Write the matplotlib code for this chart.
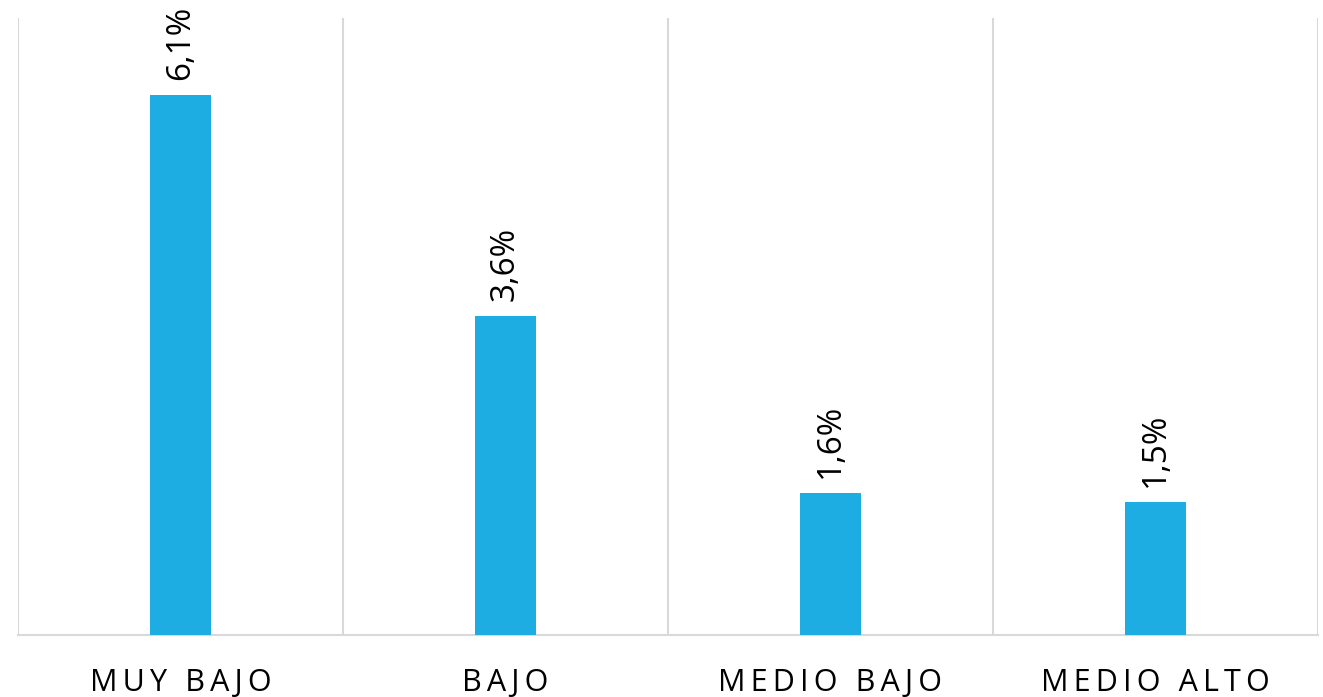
import matplotlib.pyplot as plt
import numpy as np

categories = ["MUY BAJO", "BAJO", "MEDIO BAJO", "MEDIO ALTO"]
values = [6.1, 3.6, 1.6, 1.5]
value_labels = ["6,1%", "3,6%", "1,6%", "1,5%"]

BAR_COLOR = "#1EADE3"
GRID_COLOR = "#D9D9D9"

plt.rcParams["font.family"] = ["Open Sans", "DejaVu Sans"]

fig = plt.figure(figsize=(13.23, 6.97), dpi=100)
ax = fig.add_axes([0.0136, 0.089, 0.9826, 0.885])

x = np.arange(len(categories))
ax.bar(x, values, width=0.185, color=BAR_COLOR, zorder=3)

# Value labels sit above each bar, rotated like the original
for xi, val, label in zip(x, values, value_labels):
    ax.annotate(label, (xi, val), xytext=(0, 11), textcoords="offset points",
                rotation=90, ha="center", va="bottom", fontsize=24, color="black")

# Category separators
for b in np.arange(-0.5, len(categories) + 0.5, 1.0):
    ax.axvline(b, color=GRID_COLOR, linewidth=1.5, zorder=1)

ax.set_xlim(-0.5, len(categories) - 0.5)
ax.set_ylim(0, 6.97)
ax.set_yticks([])
ax.set_xticks(x)
spaced = ["\u2009".join(c) for c in categories]
ax.set_xticklabels(spaced, fontsize=22)
ax.tick_params(axis="x", length=0, pad=24)

for side in ["top", "right", "left"]:
    ax.spines[side].set_visible(False)
ax.spines["bottom"].set_color(GRID_COLOR)
ax.spines["bottom"].set_linewidth(1.5)

fig.savefig("out.png", dpi=100)
